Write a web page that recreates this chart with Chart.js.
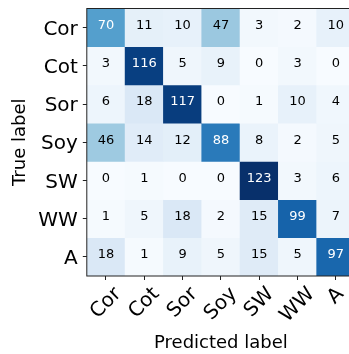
<!DOCTYPE html>
<html>
<head>
<meta charset="utf-8">
<script src="https://cdn.jsdelivr.net/npm/chart.js@4/dist/chart.umd.min.js"></script>
<style>
  html, body { margin: 0; padding: 0; background: #fff; overflow: hidden; }
  #wrap { width: 355px; height: 354px; }
</style>
</head>
<body>
<div id="wrap"><canvas id="cm" width="355" height="354"></canvas></div>
<script>
// Class names (rows = true label, columns = predicted label)
const trueLabels = ['Cor', 'Cot', 'Sor', 'Soy', 'SW', 'WW', 'A'];
const predictedLabels = ['Cor', 'Cot', 'Sor', 'Soy', 'SW', 'WW', 'A'];

// Confusion-matrix counts, one array per true label
const rowCor = [70, 11, 10, 47, 3, 2, 10];
const rowCot = [3, 116, 5, 9, 0, 3, 0];
const rowSor = [6, 18, 117, 0, 1, 10, 4];
const rowSoy = [46, 14, 12, 88, 8, 2, 5];
const rowSW  = [0, 1, 0, 0, 123, 3, 6];
const rowWW  = [1, 5, 18, 2, 15, 99, 7];
const rowA   = [18, 1, 9, 5, 15, 5, 97];
const counts = [rowCor, rowCot, rowSor, rowSoy, rowSW, rowWW, rowA];

const FONT = "'DejaVu Sans', 'Liberation Sans', sans-serif";
const n = trueLabels.length;
const vmax = Math.max(...counts.flat());
const vmin = Math.min(...counts.flat());

// Sequential "Blues" colour ramp
const bluesStops = [
  [247, 251, 255], [222, 235, 247], [198, 219, 239], [158, 202, 225],
  [107, 174, 214], [66, 146, 198], [33, 113, 181], [8, 81, 156], [8, 48, 107]
];
function blues(t) {
  t = Math.min(1, Math.max(0, t));
  const p = t * (bluesStops.length - 1);
  const i = Math.min(bluesStops.length - 2, Math.floor(p));
  const f = p - i;
  const a = bluesStops[i], b = bluesStops[i + 1];
  const c = a.map((v, k) => Math.round(v + (b[k] - v) * f));
  return `rgb(${c[0]},${c[1]},${c[2]})`;
}

// One floating-bar dataset per true-label row; each bar spans one row band
const datasets = counts.map((row, i) => ({
  label: trueLabels[i],
  data: row.map(() => [n - 1 - i, n - i]),
  values: row,
  backgroundColor: row.map(v => blues((v - vmin) / (vmax - vmin))),
  borderWidth: 0,
  borderSkipped: false,
  barPercentage: 1,
  categoryPercentage: 1,
  grouped: false
}));

// Cell counts, rotated x labels and plot frame
const matrixDecor = {
  id: 'matrixDecor',
  afterDatasetsDraw(chart) {
    const ctx = chart.ctx;
    const thresh = vmax / 2;
    ctx.save();
    ctx.font = `13px ${FONT}`;
    ctx.textAlign = 'center';
    ctx.textBaseline = 'middle';
    chart.data.datasets.forEach((ds, di) => {
      const meta = chart.getDatasetMeta(di);
      meta.data.forEach((el, j) => {
        const v = ds.values[j];
        ctx.fillStyle = v > thresh ? '#ffffff' : '#000000';
        ctx.fillText(String(v), el.x, (el.y + el.base) / 2 - 2);
      });
    });
    // frame around the matrix
    const a = chart.chartArea;
    ctx.strokeStyle = '#222';
    ctx.lineWidth = 1;
    ctx.strokeRect(a.left, a.top, a.right - a.left, a.bottom - a.top);
    ctx.restore();
  },
  afterDraw(chart) {
    const ctx = chart.ctx;
    const xs = chart.scales.x;
    const a = chart.chartArea;
    ctx.save();
    ctx.font = `20px ${FONT}`;
    ctx.fillStyle = '#000';
    ctx.textAlign = 'center';
    ctx.textBaseline = 'middle';
    const top = a.bottom + 8;
    predictedLabels.forEach((lab, i) => {
      const x = xs.getPixelForTick(i);
      const w = ctx.measureText(lab).width;
      const cy = top + (w + 20) * Math.SQRT1_2 / 2;
      ctx.save();
      ctx.translate(x, cy);
      ctx.rotate(-Math.PI / 4);
      ctx.fillText(lab, 0, 0);
      ctx.restore();
    });
    ctx.restore();
  }
};

new Chart(document.getElementById('cm'), {
  type: 'bar',
  data: { labels: predictedLabels, datasets },
  options: {
    responsive: false,
    animation: false,
    devicePixelRatio: 1,
    layout: { padding: { top: 8.5, left: 0, right: 0, bottom: 0 } },
    plugins: { legend: { display: false }, tooltip: { enabled: false } },
    scales: {
      x: {
        type: 'category',
        offset: true,
        grid: { display: true, offset: false, drawOnChartArea: false, drawTicks: true, tickLength: 4, color: '#222', lineWidth: 1 },
        border: { display: false },
        ticks: { display: false },
        title: { display: true, text: 'Predicted label', color: '#000', font: { family: FONT, size: 18 }, padding: { top: 0, bottom: 0 } },
        afterFit(s) { s.height = 78; s.paddingLeft = 0; s.paddingRight = 0; }
      },
      y: {
        type: 'linear',
        min: 0,
        max: n,
        grid: { display: true, drawOnChartArea: false, drawTicks: true, tickLength: 4, color: '#222', lineWidth: 1 },
        border: { display: false },
        afterBuildTicks(s) { s.ticks = trueLabels.map((_, i) => ({ value: n - 0.5 - i })); },
        ticks: {
          color: '#000',
          font: { family: FONT, size: 20 },
          padding: 5,
          labelOffset: 2,
          callback: (v) => trueLabels[Math.round(n - 0.5 - v)]
        },
        title: { display: true, text: 'True label', color: '#000', font: { family: FONT, size: 18 }, padding: { top: 10, bottom: 0 } },
        afterFit(s) { s.width = 86.8; s.paddingTop = 0; s.paddingBottom = 0; }
      }
    }
  },
  plugins: [matrixDecor]
});
</script>
</body>
</html>
